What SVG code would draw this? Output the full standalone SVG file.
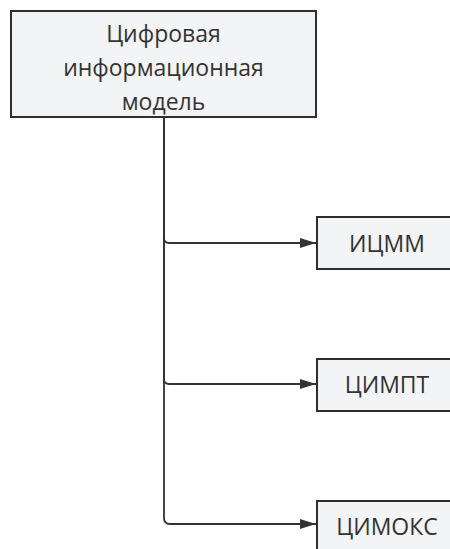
<svg xmlns="http://www.w3.org/2000/svg" width="450" height="549" viewBox="0 0 450 549">
  <style>
    .box { fill: #f3f4f6; stroke: #2e2e2e; stroke-width: 2; }
    .lbl { font-family: "Open Sans", "Noto Sans", "DejaVu Sans", sans-serif; font-size: 23px; fill: #333333; text-anchor: middle; }
    .edge { fill: none; stroke: #333333; stroke-width: 1.8; }
  </style>
  <defs>
    <marker id="arrow" viewBox="0 0 16 10" refX="16" refY="5" markerWidth="16" markerHeight="10" markerUnits="userSpaceOnUse" orient="auto">
      <path d="M0,0 L16,5 L0,10 Z" fill="#333333"/>
    </marker>
  </defs>
  <rect width="450" height="549" fill="#ffffff"/>

  <g id="connectors">
    <path class="edge" d="M164,117 V238 Q164,243 169,243 H316" marker-end="url(#arrow)"/>
    <path class="edge" d="M164,117 V379 Q164,384 169,384 H316" marker-end="url(#arrow)"/>
    <path class="edge" d="M164,117 V518 Q164,524 170,524 H316" marker-end="url(#arrow)"/>
  </g>

  <g id="node-cim">
    <rect class="box" x="11" y="11" width="305" height="106"/>
    <text class="lbl" x="163.5" y="42">Цифровая</text>
    <text class="lbl" x="163.5" y="76">информационная</text>
    <text class="lbl" x="163.5" y="110">модель</text>
  </g>

  <g id="node-icmm">
    <rect class="box" x="317" y="217" width="140" height="52"/>
    <text class="lbl" x="387" y="252">ИЦММ</text>
  </g>

  <g id="node-cimpt">
    <rect class="box" x="317" y="359" width="140" height="52"/>
    <text class="lbl" x="387" y="393">ЦИМПТ</text>
  </g>

  <g id="node-cimoks">
    <rect class="box" x="317" y="501" width="140" height="52"/>
    <text class="lbl" x="387" y="535">ЦИМОКС</text>
  </g>
</svg>
